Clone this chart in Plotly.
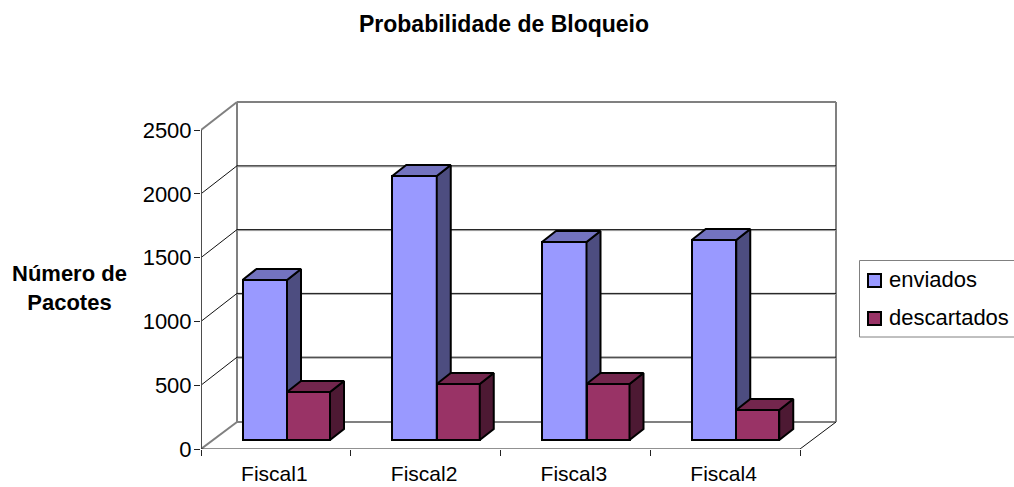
import plotly.graph_objects as go

# ---------- data ----------
categories = ["Fiscal1", "Fiscal2", "Fiscal3", "Fiscal4"]
enviados = [1254, 2069, 1552, 1567]
descartados = [376, 439, 439, 235]
y_ticks = [0, 500, 1000, 1500, 2000, 2500]
series_names = ["enviados", "descartados"]

# ---------- chart geometry (pixels) ----------
W, H = 1014, 487
X0, X1, Y0, Y2500 = 201, 800, 449, 130          # front axes
WALL_DX, WALL_DY = 36, 28                       # depth of the floor
BAR_DX, BAR_DY = 14, 11                         # depth of a bar
BAR_IN_X, BAR_IN_Y = 41.5, 9                    # bar offset from the axis corner
W_ENV, W_DESC = 44.5, 43
PAD = 6                                         # room so the wall lines are not clipped
PLOT_R, PLOT_T = X1 + WALL_DX + PAD, 102 - PAD
PX_CAT = (X1 - X0) / len(categories)
PX_VAL = (Y0 - Y2500) / 2500

ux = lambda px: px / PX_CAT
uy = lambda px: px / PX_VAL
xr = [0, ux(PLOT_R - X0)]
yr = [0, uy(Y0 - PLOT_T)]

wall_dx, wall_dy = ux(WALL_DX), uy(WALL_DY)
n = len(categories)
top_val = y_ticks[-1]

GREY = "#808080"
shapes = []
def line(x0, y0, x1, y1, color, width):
    shapes.append(dict(type="line", x0=x0, y0=y0, x1=x1, y1=y1, xref="x", yref="y",
                       layer="below", line=dict(color=color, width=width)))

# back wall, side wall and floor
floor_y = wall_dy - uy(1)
line(wall_dx, floor_y, wall_dx, top_val + wall_dy, GREY, 2)
line(wall_dx, top_val + wall_dy, n + wall_dx, top_val + wall_dy, GREY, 2)
line(n + wall_dx, floor_y, n + wall_dx, top_val + wall_dy, GREY, 2)
line(wall_dx, floor_y, n + wall_dx, floor_y, GREY, 2)
line(0, 0, wall_dx, floor_y, GREY, 2)
line(0, top_val, wall_dx, top_val + wall_dy, GREY, 2)
for t in y_ticks[1:-1]:
    line(wall_dx, t + wall_dy - uy(1), n + wall_dx, t + wall_dy - uy(1), "#A0A0A0", 1)
    line(wall_dx, t + wall_dy, n + wall_dx, t + wall_dy, "#111111", 1)
    line(0, t, wall_dx, t + wall_dy, "#111111", 1)
line(n, 0, n + wall_dx, floor_y, "#111111", 1)

# legend frame and swatches (pixel placed)
pcx = lambda v: (v - X0) / (PLOT_R - X0)
pcy = lambda v: (Y0 - v) / (Y0 - PLOT_T)
shapes.append(dict(type="rect", xref="paper", yref="paper", x0=pcx(859.5), x1=pcx(1020), y0=pcy(337), y1=pcy(260.5),
                   line=dict(color=GREY, width=1), fillcolor="white", layer="below"))
COL = {"enviados": ("#9999FF", "#7373BF", "#4D4D80"), "descartados": ("#993366", "#73264D", "#4D1933")}
legend_y = [(280.5, 279.5), (318.5, 317.5)]
annotations = []
for name, (cy, ty) in zip(series_names, legend_y):
    shapes.append(dict(type="rect", xref="paper", yref="paper", x0=pcx(868), x1=pcx(881),
                       y0=pcy(cy + 6.5), y1=pcy(cy - 6.5), fillcolor=COL[name][0],
                       line=dict(color="black", width=2), layer="above"))
    annotations.append(dict(text=name, xref="paper", yref="paper", x=pcx(887), y=pcy(ty),
                            xanchor="left", yanchor="middle", showarrow=False,
                            font=dict(size=22, color="black")))
annotations.append(dict(text="<b>Número de<br>Pacotes</b>", xref="paper", yref="paper", x=pcx(69), y=pcy(288),
                        xanchor="center", yanchor="middle", showarrow=False,
                        font=dict(size=22, color="black")))

def add_series(fig, name, values, offset_px, width_px, xa, ya):
    front, top_col, side_col = COL[name]
    left = [i + ux(BAR_IN_X + offset_px) for i in range(n)]
    base = uy(BAR_IN_Y)
    fig.add_trace(go.Bar(x=left, y=values, base=[base] * n, width=[ux(width_px)] * n, offset=0,
                         name=name, marker=dict(color=front, line=dict(color="black", width=2)),
                         xaxis=xa, yaxis=ya, showlegend=False))
    dx, dy = ux(BAR_DX), uy(BAR_DY)
    w = ux(width_px)
    for l, v in zip(left, values):
        t = base + v
        r = l + w
        fig.add_trace(go.Scatter(x=[r, r + dx, r + dx, r, r], y=[base, base + dy, t + dy, t, base],
                                 mode="lines", fill="toself", fillcolor=side_col,
                                 line=dict(color="black", width=2), xaxis=xa, yaxis=ya,
                                 showlegend=False, hoverinfo="skip"))
        fig.add_trace(go.Scatter(x=[l, l + dx, r + dx, r, l], y=[t, t + dy, t + dy, t, t],
                                 mode="lines", fill="toself", fillcolor=top_col,
                                 line=dict(color="black", width=2), xaxis=xa, yaxis=ya,
                                 showlegend=False, hoverinfo="skip"))

fig = go.Figure()
add_series(fig, "enviados", enviados, 0, W_ENV, "x", "y")
add_series(fig, "descartados", descartados, W_ENV, W_DESC, "x2", "y2")
# front axis lines, unclipped so their full width shows at the plot edge
fig.add_trace(go.Scatter(x=[0, 0], y=[0, top_val], mode="lines", cliponaxis=False, showlegend=False,
                         line=dict(color="#4D4D4D", width=2), hoverinfo="skip"))
fig.add_trace(go.Scatter(x=[0, n], y=[0, 0], mode="lines", cliponaxis=False, showlegend=False,
                         line=dict(color="#222222", width=1), hoverinfo="skip"))

FONT = "Liberation Sans, Arial, sans-serif"
fig.update_layout(
    width=W, height=H, autosize=False,
    margin=dict(l=X0, r=W - PLOT_R, t=PLOT_T, b=H - Y0, pad=0, autoexpand=False),
    paper_bgcolor="white", plot_bgcolor="rgba(0,0,0,0)",
    font=dict(family=FONT, color="black"),
    title=dict(text="<b>Probabilidade de Bloqueio</b>", x=504 / W, y=1 - 24 / H, xanchor="center",
               yanchor="middle", xref="container", font=dict(size=23, color="black")),
    showlegend=False, bargap=0,
    xaxis=dict(range=xr, tickmode="array", tickvals=[i + 0.5 - ux(1.5) for i in range(n)], ticktext=categories,
               ticks="", ticklabelstandoff=10, showgrid=False, zeroline=False, showline=False, automargin=False,
               tickfont=dict(size=21),
               minor=dict(tickmode="array", tickvals=list(range(n + 1)), ticks="outside", ticklen=6,
                          tickcolor="#222222", tickwidth=1, showgrid=False)),
    yaxis=dict(range=yr, tickmode="array", tickvals=y_ticks, ticks="outside", ticklen=6, tickcolor="#222222",
               tickwidth=1, showgrid=False, zeroline=False, showline=False, automargin=False,
               ticklabelstandoff=-2, tickfont=dict(size=22)),
    xaxis2=dict(range=xr, overlaying="x", visible=False),
    yaxis2=dict(range=yr, overlaying="y", visible=False),
    shapes=shapes, annotations=annotations,
)
fig.write_html("out.html", config={"displayModeBar": False}, post_script="document.body.style.margin='0';")
